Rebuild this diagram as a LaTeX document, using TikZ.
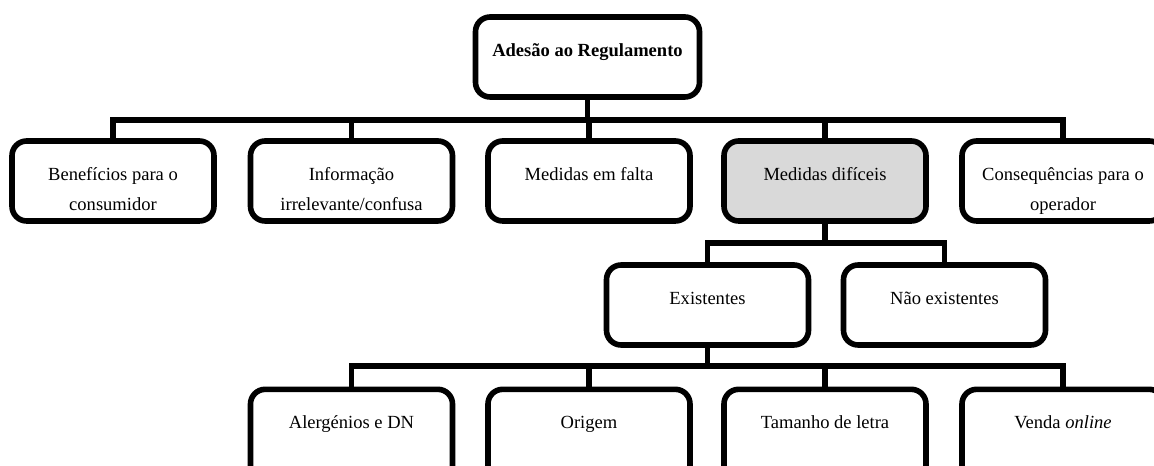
\documentclass[tikz,border=0pt]{standalone}
\usepackage{fontspec}
\setmainfont{Liberation Serif}
\definecolor{hlgrey}{HTML}{D9D9D9}
% text block inside a box of width #1 and height #2: first baseline fixed below the top edge
\newcommand\boxtextgen[3]{\begin{minipage}[c][#2][t]{#1}\centering
  \fontsize{13.9pt}{22.5pt}\selectfont\rule{0pt}{29.3pt}#3\end{minipage}}
\newcommand\boxtext[2][151.5pt]{\boxtextgen{#1}{60pt}{#2}}
\newcommand\tallboxtext[1]{\boxtextgen{151.5pt}{70pt}{#1}}
\begin{document}
\begin{tikzpicture}[x=0.75pt,y=-0.75pt,
  box/.style={draw, fill=white, line width=4.2pt, rounded corners=11pt,
    inner sep=0pt, minimum width=151.5pt, minimum height=60pt},
  tallbox/.style={box, minimum height=70pt},
  conn/.style={line width=3.9pt, line join=miter}]
\useasboundingbox (0,0) rectangle (1154,466);
\clip (0,0) rectangle (1154,466);

% root
\node[box, minimum width=168pt] (root) at (587.5,57)
  {\boxtext[168pt]{\textbf{Adesão ao Regulamento}}};

% first level
\node[box] (ben) at (113,181) {\boxtext{Benefícios para o\\consumidor}};
\node[box] (inf) at (351.5,181) {\boxtext{Informação\\irrelevante/confusa}};
\node[box] (fal) at (589,181) {\boxtext{Medidas em falta}};
\node[box, fill=hlgrey] (dif) at (825,181) {\boxtext{Medidas difíceis}};
\node[box] (con) at (1063,181) {\boxtext{Consequências para o\\operador}};

% second level
\node[box] (exi) at (707.5,305) {\boxtext{Existentes}};
\node[box] (nex) at (944.5,305) {\boxtext{Não existentes}};

% third level (runs past the lower edge)
\node[tallbox] (ale) at (351.5,436) {\tallboxtext{Alergénios e DN}};
\node[tallbox] (ori) at (589,436) {\tallboxtext{Origem}};
\node[tallbox] (tam) at (825,436) {\tallboxtext{Tamanho de letra}};
\node[tallbox] (ven) at (1063,436) {\tallboxtext{Venda \textit{online}}};

% bus lines
\coordinate (busA) at (0,120);
\coordinate (busB) at (0,243);
\coordinate (busC) at (0,366);

\foreach \c in {ben,inf,fal,dif,con}
  \draw[conn] (root.south) -- (root.south |- busA) -| (\c.north);
\foreach \c in {exi,nex}
  \draw[conn] (dif.south) -- (dif.south |- busB) -| (\c.north);
\foreach \c in {ale,ori,tam,ven}
  \draw[conn] (exi.south) -- (exi.south |- busC) -| (\c.north);
\end{tikzpicture}
\end{document}
